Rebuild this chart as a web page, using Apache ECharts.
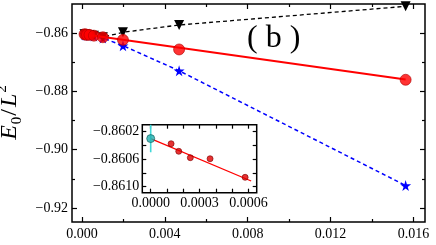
<!DOCTYPE html>
<html>
<head>
<meta charset="utf-8">
<script src="https://cdn.jsdelivr.net/npm/echarts@6/dist/echarts.min.js"></script>
<style>html,body{margin:0;padding:0;background:#fff}#c{width:436px;height:245px}</style>
</head>
<body>
<div id="c"></div>
<script>
// ---- data ----
const redX   = [0.000125, 0.000172, 0.000243, 0.000364, 0.000579, 0.00101, 0.00198, 0.00469, 0.015625];
const redY   = [-0.860375, -0.860485, -0.860578, -0.860593, -0.860863, -0.8614, -0.8623, -0.8656, -0.8760];
const blackX = [0.000125, 0.000172, 0.000243, 0.000364, 0.000579, 0.00101, 0.00198, 0.00469, 0.015625];
const blackY = [-0.8604, -0.8605, -0.8606, -0.8606, -0.8609, -0.8614, -0.8597, -0.8572, -0.8508];
const blueX  = [0.000125, 0.000172, 0.000243, 0.000364, 0.000579, 0.00101, 0.00198, 0.00469, 0.015625];
const blueY  = [-0.8605, -0.8606, -0.8607, -0.8608, -0.8610, -0.8617, -0.8643, -0.8729, -0.9123];
const fitMainX  = [0, 0.015625];
const fitMainY  = [-0.8603, -0.87593];
const insetRedX = [0.000125, 0.000172, 0.000243, 0.000364, 0.000579];
const insetRedY = [-0.860375, -0.860485, -0.860578, -0.860593, -0.860863];
const fitInsetX = [0, 0.000616];
const fitInsetY = [-0.86030, -0.860916];
const extrapX = [0];
const extrapY = [-0.86030];
const extrapErr = [0.0002];
// ticks / labels
const mainXLabels = [0, 0.004, 0.008, 0.012, 0.016];
const mainXMinor  = [0.002, 0.006, 0.010, 0.014];
const mainYLabels = [-0.92, -0.90, -0.88, -0.86];
const mainYMinor  = [-0.91, -0.89, -0.87];
const insetXTicks  = [0, 0.0001, 0.0002, 0.0003, 0.0004, 0.0005, 0.0006];
const insetXLabels = [0, 0.0003, 0.0006];
const insetYTicks  = [-0.8610, -0.8608, -0.8606, -0.8604, -0.8602];
const insetYLabels = [-0.8610, -0.8606, -0.8602];

const zip = (a, b) => a.map((v, i) => [v, b[i]]);
const FONT = 'Liberation Serif';
const fmt = d => v => (v < 0 ? '\u2212' : '') + Math.abs(v).toFixed(d);

const MX = [-0.00048, 0.01656], MY = [-0.9248, -0.85];
const IX = [-0.0000515, 0.00065], IY = [-0.861087, -0.860098];

function ax(grid, pos, ext, ticks, len, labels, f, margin) {
  return {
    type: 'value', gridIndex: grid, position: pos, min: ext[0], max: ext[1], offset: 0,
    axisLine: {show: false, onZero: false}, splitLine: {show: false},
    axisTick: {show: true, inside: true, length: len, customValues: ticks,
               lineStyle: {color: '#000', width: 1.2}},
    axisLabel: labels ? {show: true, customValues: labels, formatter: f, margin: margin,
               fontFamily: FONT, fontSize: 14, color: '#000'} : {show: false}
  };
}

const starPath = 'path://M50,0 L61,35 L98,35 L68,57 L79,91 L50,70 L21,91 L32,57 L2,35 L39,35 Z';

const chart = echarts.init(document.getElementById('c'));
chart.setOption({
  animation: false,
  grid: [
    {left: 72, top: 4, right: 11, bottom: 23, show: true, borderColor: '#000', borderWidth: 1.5,
     backgroundColor: 'transparent', outerBoundsMode: 'none', containLabel: false},
    {left: 142.3, top: 124.7, right: 179.3, bottom: 52.3, show: true, borderColor: '#000', borderWidth: 1.5,
     backgroundColor: '#fff', outerBoundsMode: 'none', containLabel: false}
  ],
  xAxis: [
    ax(0, 'bottom', MX, mainXLabels, 5, mainXLabels, fmt(3), 5),
    ax(0, 'bottom', MX, mainXMinor, 3),
    ax(0, 'top', MX, mainXLabels, 5),
    ax(0, 'top', MX, mainXMinor, 3),
    ax(1, 'bottom', IX, insetXTicks, 4, insetXLabels, fmt(4), 4),
    ax(1, 'top', IX, insetXTicks, 4)
  ],
  yAxis: [
    Object.assign(ax(0, 'left', MY, mainYLabels, 5, mainYLabels, fmt(2), 4), {
      name: '{e|E}{s|0}{n|/}{e|L}{p|2}', nameLocation: 'middle', nameRotate: 90, nameGap: 46,
      nameTextStyle: {
        color: '#000',
        rich: {
          e: {fontFamily: FONT, fontStyle: 'italic', fontSize: 24, lineHeight: 30, padding: [0, 1], color: '#000'},
          n: {fontFamily: FONT, fontSize: 24, lineHeight: 30, padding: [0, 1], color: '#000'},
          s: {fontFamily: FONT, fontSize: 15, lineHeight: 15, verticalAlign: 'bottom', color: '#000'},
          p: {fontFamily: FONT, fontSize: 15, lineHeight: 15, verticalAlign: 'top', color: '#000'}
        }
      }
    }),
    ax(0, 'left', MY, mainYMinor, 3),
    ax(0, 'right', MY, mainYLabels, 5),
    ax(0, 'right', MY, mainYMinor, 3),
    ax(1, 'left', IY, insetYTicks, 4, insetYLabels, fmt(4), 3),
    ax(1, 'right', IY, insetYTicks, 4)
  ],
  graphic: [
    {type: 'text', left: 247, top: 23, z: 100,
     style: {text: '( b )', font: '32px "Liberation Serif"', fill: '#000'}}
  ],
  series: [
    {type: 'line', xAxisIndex: 0, yAxisIndex: 0, data: zip(blueX, blueY),
     symbol: starPath, symbolSize: 11, itemStyle: {color: '#0000ff'},
     lineStyle: {color: '#0000ff', width: 1.5, type: [4, 3]}, z: 3},
    {type: 'line', xAxisIndex: 0, yAxisIndex: 0, data: zip(blackX, blackY),
     symbol: 'triangle', symbolRotate: 180, symbolSize: 10, itemStyle: {color: '#000'},
     lineStyle: {color: '#000', width: 1.3, type: [4, 3]}, z: 3},
    {type: 'line', xAxisIndex: 0, yAxisIndex: 0, data: zip(fitMainX, fitMainY),
     symbol: 'none', lineStyle: {color: '#ff0000', width: 2}, z: 4},
    {type: 'scatter', xAxisIndex: 0, yAxisIndex: 0, data: zip(redX, redY),
     symbol: 'circle', symbolSize: 11, itemStyle: {color: '#ff0000', borderColor: '#b00000', borderWidth: 0.8}, z: 5},
    // inset
    {type: 'line', xAxisIndex: 4, yAxisIndex: 4, data: zip(fitInsetX, fitInsetY),
     symbol: 'none', lineStyle: {color: '#ff0000', width: 1.2}, z: 6},
    {type: 'scatter', xAxisIndex: 4, yAxisIndex: 4, data: zip(insetRedX, insetRedY),
     symbol: 'circle', symbolSize: 6, itemStyle: {color: '#e00000', borderColor: '#800000', borderWidth: 0.8}, z: 7},
    {type: 'line', xAxisIndex: 4, yAxisIndex: 4,
     data: [[extrapX[0], extrapY[0] + extrapErr[0]], [extrapX[0], extrapY[0] - extrapErr[0]]],
     symbol: 'none', lineStyle: {color: '#40d8d8', width: 1.6}, z: 7},
    {type: 'scatter', xAxisIndex: 4, yAxisIndex: 4, data: zip(extrapX, extrapY),
     symbol: 'circle', symbolSize: 8, itemStyle: {color: '#20b0b0', borderColor: '#105858', borderWidth: 0.8}, z: 8}
  ]
});
</script>
</body>
</html>
